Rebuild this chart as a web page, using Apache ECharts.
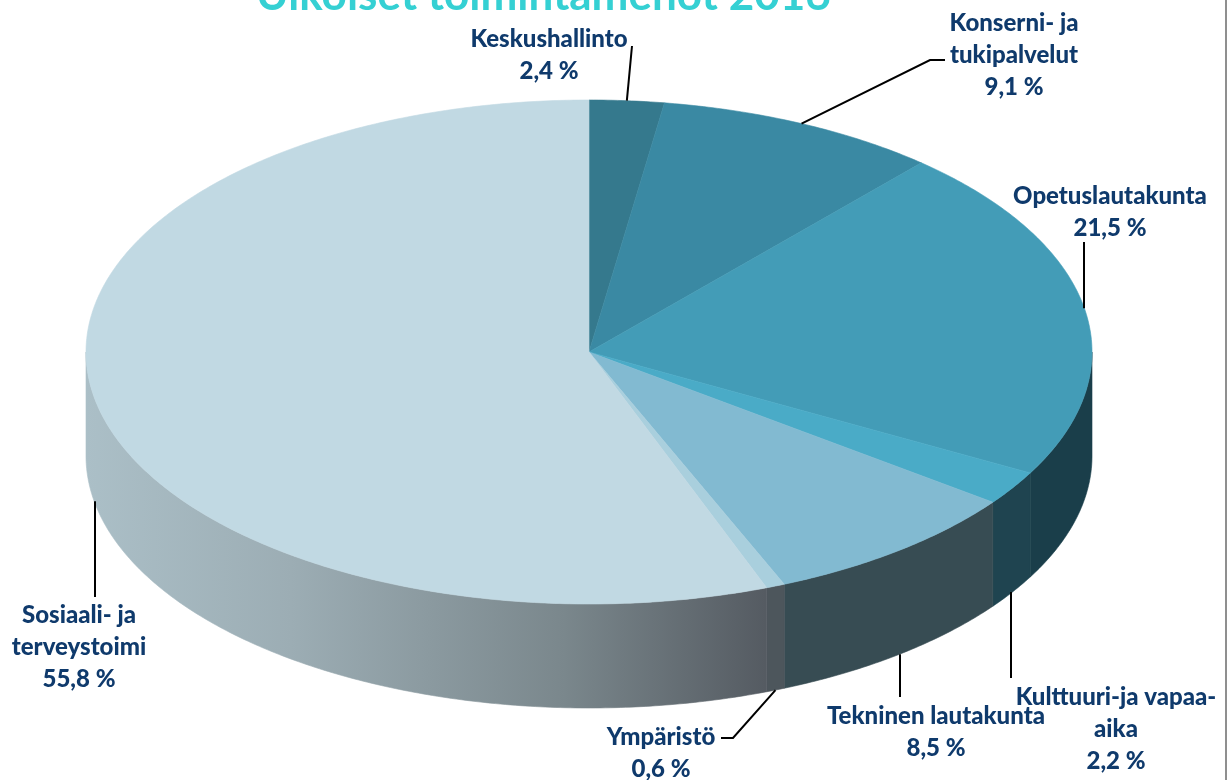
<!DOCTYPE html>
<html>
<head>
<meta charset="utf-8">
<title>Ulkoiset toimintamenot 2016</title>
<script src="https://cdn.jsdelivr.net/npm/echarts@6/dist/echarts.min.js"></script>
<style>
html, body { margin: 0; padding: 0; background: #fff; }
#main { width: 1227px; height: 780px; }
</style>
</head>
<body>
<div id="main"></div>
<script>
var categories = ['Keskushallinto', 'Konserni- ja\ntukipalvelut', 'Opetuslautakunta', 'Kulttuuri-ja vapaa-\naika', 'Tekninen lautakunta', 'Ympäristö', 'Sosiaali- ja\nterveystoimi'];
var values = [2.4, 9.1, 21.5, 2.2, 8.5, 0.6, 55.8];

var topColors = ['#35798d', '#3a89a3', '#439cb7', '#4aabc7', '#82bad1', '#a9cfdd', '#c1d9e3'];
var sideColors = ['#1f4450', '#1f4450', '#1a3e4a', '#1f4450', '#374c53', '#4d565c', '#a9bdc5'];

// pie geometry
var cx = 589, cy = 352, rx = 503, ry = 252, depth = 104;
var FONT = 'Lato';

// label centres and leader line bends, same order as categories
var labelPos = [[549, 55], [1014, 55], [1110, 212], [1116, 729], [936, 732], [661, 753], [79, 647]];
var leaderBends = [
    [[632, 46]],
    [[930, 60], [945, 60]],
    [[1084, 242]],
    [[1011, 678]],
    [[900, 697]],
    [[733, 738], [721, 738]],
    [[95, 597]]
];

var total = 0;
for (var i = 0; i < values.length; i++) total += values[i];

var starts = [], sum = 0;
for (var i = 0; i < values.length; i++) {
    starts.push(sum / total * Math.PI * 2);
    sum += values[i];
}

function pt(a, dy) { //angle clockwise from top
    return [cx + rx * Math.sin(a), cy - ry * Math.cos(a) + (dy || 0)];
}

function arc(a0, a1, dy) {
    var pts = [];
    var n = Math.max(2, Math.ceil((a1 - a0) / 0.01));
    for (var k = 0; k <= n; k++) pts.push(pt(a0 + (a1 - a0) * k / n, dy));
    return pts;
}

function renderSlice(params, api) {
    var idx = params.dataIndex;
    var a0 = starts[idx];
    var a1 = a0 + api.value(0) / total * Math.PI * 2;
    var mid = (a0 + a1) / 2;
    var children = [];

    // side wall, only the front half can be seen
    var s0 = Math.max(a0, Math.PI / 2), s1 = Math.min(a1, Math.PI * 1.5);
    if (s1 > s0) {
        var fill = sideColors[idx];
        if (idx === values.length - 1) {
            fill = {
                type: 'linear', x: 86, y: 0, x2: 770, y2: 0, global: true,
                colorStops: [
                    { offset: 0, color: '#abbfc7' },
                    { offset: 0.3, color: '#9cadb4' },
                    { offset: 0.7, color: '#7a878c' },
                    { offset: 1, color: '#545a61' }
                ]
            };
        }
        children.push({
            type: 'polygon',
            shape: { points: arc(s0, s1, 0).concat(arc(s0, s1, depth).reverse()) },
            style: { fill: fill, stroke: fill, lineWidth: 0.6 }
        });
    }

    // top face
    children.push({
        type: 'polygon',
        shape: { points: [[cx, cy]].concat(arc(a0, a1, 0)) },
        style: { fill: topColors[idx], stroke: topColors[idx], lineWidth: 0.6 },
        z2: 2
    });

    // leader line starts on the outer edge at the slice middle
    var front = Math.cos(mid) < 0;
    var start = pt(mid, front ? depth : 0);
    var first = leaderBends[idx][0];
    if (Math.abs(first[0] - start[0]) < 3) start[0] = first[0]; //keep the straight ones vertical
    children.push({
        type: 'polyline',
        shape: { points: [start].concat(leaderBends[idx]) },
        style: { stroke: '#000', lineWidth: 2, fill: null },
        z2: 3
    });

    children.push({
        type: 'text',
        style: {
            x: labelPos[idx][0],
            y: labelPos[idx][1],
            text: categories[idx] + '\n' + String(api.value(0)).replace('.', ',') + ' %',
            font: '900 24px ' + FONT,
            fill: '#0f3a6c',
            align: 'center',
            verticalAlign: 'middle',
            lineHeight: 32
        },
        z2: 4
    });

    return { type: 'group', children: children };
}

var myChart = echarts.init(document.getElementById('main'));
myChart.setOption({
    backgroundColor: '#fff',
    animation: false,
    title: {
        text: 'Ulkoiset toimintamenot 2016',
        left: 251,
        top: -31,
        textStyle: { color: '#35d0d3', fontFamily: FONT, fontWeight: 700, fontSize: 44 }
    },
    graphic: [{
        // frame line on the right side of the picture
        type: 'rect',
        shape: { x: 1225, y: 0, width: 2, height: 780 },
        style: { fill: '#8f8f8f' }
    }],
    series: [{
        type: 'custom',
        coordinateSystem: 'none',
        silent: true,
        renderItem: renderSlice,
        data: values
    }]
});
</script>
</body>
</html>
